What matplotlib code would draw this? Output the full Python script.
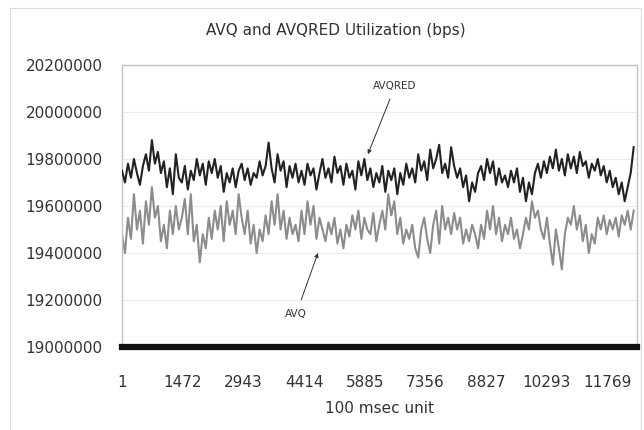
"""AVQ vs AVQRED link utilization over time (100 msec samples)."""
import numpy as np
import matplotlib
matplotlib.use("Agg")
import matplotlib.pyplot as plt
from matplotlib.patches import Rectangle

# ── data (in units of 10 kbps) ──────────────────────────────────────────────
N_SAMPLES = 12480

AVQRED_10K = [
    1975, 1970, 1978, 1972, 1980, 1974, 1969, 1977, 1982, 1975,
    1988, 1978, 1983, 1974, 1979, 1968, 1976, 1965, 1982, 1972,
    1970, 1977, 1967, 1975, 1971, 1980, 1973, 1978, 1969, 1979,
    1974, 1980, 1972, 1977, 1966, 1974, 1970, 1976, 1968, 1975,
    1978, 1971, 1976, 1969, 1974, 1972, 1979, 1973, 1977, 1987,
    1976, 1970, 1982, 1975, 1979, 1968, 1977, 1972, 1978, 1970,
    1975, 1969, 1978, 1973, 1976, 1967, 1974, 1980, 1972, 1976,
    1970, 1981, 1974, 1977, 1969, 1978, 1972, 1975, 1967, 1979,
    1973, 1980, 1971, 1976, 1968, 1974, 1970, 1977, 1966, 1975,
    1971, 1976, 1965, 1974, 1969, 1978, 1972, 1976, 1970, 1982,
    1975, 1979, 1971, 1984, 1976, 1980, 1986, 1974, 1978, 1972,
    1985, 1977, 1972, 1976, 1968, 1973, 1962, 1970, 1966, 1974,
    1977, 1971, 1980, 1974, 1979, 1969, 1976, 1970, 1973, 1968,
    1975, 1970, 1976, 1966, 1972, 1962, 1970, 1965, 1974, 1978,
    1972, 1979, 1974, 1981, 1976, 1984, 1975, 1980, 1973, 1982,
    1976, 1981, 1974, 1983, 1977, 1979, 1972, 1978, 1975, 1980,
    1973, 1977, 1970, 1975, 1968, 1972, 1965, 1970, 1962, 1968,
    1974, 1985,
]

AVQ_10K = [
    1948, 1940, 1955, 1946, 1965, 1950, 1958, 1944, 1962, 1952,
    1968, 1955, 1960, 1945, 1952, 1942, 1958, 1948, 1960, 1950,
    1955, 1963, 1948, 1965, 1945, 1952, 1936, 1948, 1942, 1955,
    1946, 1958, 1950, 1960, 1945, 1962, 1952, 1958, 1948, 1965,
    1955, 1948, 1958, 1944, 1952, 1940, 1950, 1945, 1956, 1948,
    1962, 1952, 1965, 1950, 1958, 1946, 1955, 1948, 1952, 1945,
    1958, 1948, 1962, 1952, 1960, 1946, 1955, 1950, 1945, 1953,
    1948, 1955, 1944, 1950, 1942, 1952, 1947, 1956, 1950, 1958,
    1946, 1955, 1950, 1948, 1957, 1945, 1952, 1958, 1950, 1965,
    1956, 1962, 1948, 1955, 1944, 1950, 1946, 1952, 1942, 1938,
    1950, 1955, 1946, 1940, 1952, 1958, 1944, 1960, 1950, 1955,
    1948, 1957, 1950, 1955, 1944, 1950, 1945, 1952, 1948, 1942,
    1952, 1946, 1958, 1950, 1960, 1948, 1955, 1945, 1952, 1948,
    1955, 1946, 1950, 1942, 1948, 1955, 1950, 1962, 1955, 1958,
    1950, 1946, 1955, 1944, 1935, 1950, 1942, 1933, 1948, 1955,
    1952, 1960, 1950, 1956, 1945, 1952, 1940, 1948, 1944, 1955,
    1950, 1956, 1948, 1954, 1950, 1955, 1947, 1956, 1952, 1958,
    1950, 1958,
]

Y_TICKS = [19000000, 19200000, 19400000, 19600000, 19800000, 20000000, 20200000]
X_TICKS = [1, 1472, 2943, 4414, 5885, 7356, 8827, 10298, 11769]
X_TICK_LABELS = ["1", "1472", "2943", "4414", "5885", "7356", "8827", "10293", "11769"]

TITLE = "AVQ and AVQRED Utilization (bps)"
XLABEL = "100 msec unit"


def main():
    avqred = np.array(AVQRED_10K) * 1e4
    avq = np.array(AVQ_10K) * 1e4
    x = np.linspace(1, N_SAMPLES - 80, len(avq))

    fig = plt.figure(figsize=(6.44, 4.30), dpi=100)
    ax = fig.add_axes([0.1894, 0.193, 0.7997, 0.656])

    ax.plot(x, avq, color="#8c8c8c", lw=1.5, zorder=2)
    ax.plot(x, avqred, color="#222222", lw=1.5, zorder=3)

    ax.set_xlim(1, N_SAMPLES)
    ax.set_ylim(Y_TICKS[0], Y_TICKS[-1])
    ax.set_yticks(Y_TICKS)
    ax.set_yticklabels([str(v) for v in Y_TICKS])
    ax.set_xticks(X_TICKS)
    ax.set_xticklabels(X_TICK_LABELS)
    ax.tick_params(axis="y", length=0, pad=14, labelsize=11, labelcolor="#333333")
    ax.tick_params(axis="x", length=0, pad=20, labelsize=11, labelcolor="#333333")

    ax.grid(axis="y", color="#ececec", lw=0.8)
    ax.set_axisbelow(True)
    for side in ("left", "top", "right"):
        ax.spines[side].set_color("#c4c4c4")
        ax.spines[side].set_linewidth(1.0)
    ax.spines["bottom"].set_color("#111111")
    ax.spines["bottom"].set_linewidth(4.5)

    ax.set_xlabel(XLABEL, fontsize=11, color="#333333", labelpad=8)
    fig.text(0.522, 0.928, TITLE, ha="center", va="center",
             fontsize=11, color="#333333")

    # callouts
    ax.annotate("AVQRED", xy=(5960, 19820000), xytext=(6620, 20110000),
                ha="center", va="center", fontsize=7.5, color="#333333",
                arrowprops=dict(arrowstyle="-|>", color="#333333", lw=0.7,
                                mutation_scale=6, shrinkA=4, shrinkB=0))
    ax.annotate("AVQ", xy=(4750, 19400000), xytext=(4220, 19140000),
                ha="center", va="center", fontsize=7.5, color="#333333",
                arrowprops=dict(arrowstyle="-|>", color="#333333", lw=0.7,
                                mutation_scale=6, shrinkA=5, shrinkB=0))

    # chart-area border
    fig.patches.append(Rectangle((10 / 644, -0.01), 631 / 644, 1 - 8 / 430 + 0.01,
                                 transform=fig.transFigure, fill=False,
                                 edgecolor="#dddddd", lw=0.8))

    fig.savefig("out.png", dpi=100)
    plt.close(fig)


if __name__ == "__main__":
    main()
